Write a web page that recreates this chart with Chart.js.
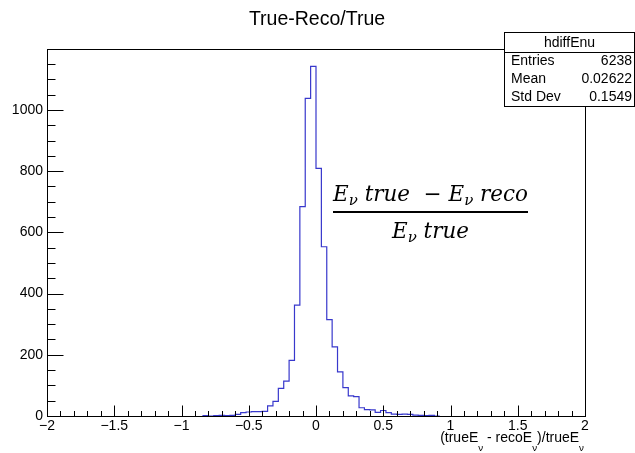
<!DOCTYPE html>
<html>
<head>
<meta charset="utf-8">
<script src="https://cdn.jsdelivr.net/npm/chart.js@4.4.0/dist/chart.umd.min.js"></script>
<style>
html, body { margin: 0; padding: 0; background: #fff; }
#wrap { width: 635px; height: 453px; }
</style>
</head>
<body>
<div id="wrap"><canvas id="hist" width="635" height="453"></canvas></div>
<script>
const histTitle = "True-Reco/True";
const histName = "hdiffEnu";
const statLabels = ["Entries", "Mean", "Std Dev"];
const statValues = ["6238", "0.02622", "0.1549"];

// bins of width 0.04, first one starts at -0.84
const binStart = -0.84;
const binWidth = 0.04;
const binCounts = [
    1, 1, 0, 1, 2, 1, 2, 5, 11, 13,
    14, 14, 15, 33, 48, 90, 114, 182, 362, 684,
    1038, 1142, 809, 553, 315, 226, 144, 93, 66, 63,
    27, 21, 20, 12, 18, 11, 6, 5, 6, 5,
    3, 2, 1, 2
];

const xTicks = [-2, -1.5, -1, -0.5, 0, 0.5, 1, 1.5, 2];
const yTicks = [0, 200, 400, 600, 800, 1000];
const xMin = -2, xMax = 2;
const yMax = 1199;

const lineColor = "#3838cc";
const textFont = "'Liberation Sans', Arial, sans-serif";

// outline points for a step histogram
let histPoints = [{ x: binStart, y: 0 }];
binCounts.forEach((c, i) => {
    histPoints.push({ x: +(binStart + i * binWidth).toFixed(2), y: c });
});
histPoints.push({ x: +(binStart + binCounts.length * binWidth).toFixed(2), y: 0 });

function fmt(v) {
    return (v < 0 ? "\u2212" : "") + Math.abs(v);
}

// text runs with subscripts
function richWidth(ctx, parts, size, family, style) {
    let w = 0;
    parts.forEach(p => {
        ctx.font = style + " " + (p.sub ? size * 0.7 : size) + "px " + family;
        w += ctx.measureText(p.t).width;
    });
    return w;
}

function drawRich(ctx, parts, x, y, size, family, style, subDrop) {
    parts.forEach(p => {
        ctx.font = style + " " + (p.sub ? size * 0.7 : size) + "px " + family;
        ctx.fillText(p.t, x, p.sub ? y + subDrop : y);
        x += ctx.measureText(p.t).width;
    });
}

const rootLook = {
    id: "rootLook",
    afterDraw(chart) {
        const ctx = chart.ctx;
        const area = chart.chartArea;
        const xs = chart.scales.x, ys = chart.scales.y;
        const L = Math.round(area.left) + 0.5, R = Math.round(area.right) + 0.5;
        const T = Math.round(area.top) + 0.5, B = Math.round(area.bottom) + 0.5;

        ctx.save();
        ctx.strokeStyle = "#000";
        ctx.lineWidth = 1;
        ctx.strokeRect(L, T, R - L, B - T);

        // ticks inside the frame
        ctx.beginPath();
        for (let k = -20; k <= 20; k++) {
            const px = Math.round(xs.getPixelForValue(k / 10)) + 0.5;
            const len = k % 5 === 0 ? 11 : 5.5;
            ctx.moveTo(px, B);
            ctx.lineTo(px, B - len);
        }
        for (let k = 0; k * 50 <= yMax; k++) {
            const py = Math.round(ys.getPixelForValue(k * 50)) + 0.5;
            const len = k % 4 === 0 ? 16 : 8;
            ctx.moveTo(L, py);
            ctx.lineTo(L + len, py);
        }
        ctx.stroke();

        // title
        ctx.fillStyle = "#000";
        ctx.textAlign = "center";
        ctx.textBaseline = "middle";
        ctx.font = "19.5px " + textFont;
        ctx.fillText(histTitle, 317, 20);

        // stats box
        ctx.fillStyle = "#fff";
        ctx.fillRect(504.5, 32.5, 130, 74);
        ctx.strokeRect(504.5, 32.5, 130, 74);
        ctx.beginPath();
        ctx.moveTo(504.5, 52.5);
        ctx.lineTo(634.5, 52.5);
        ctx.stroke();
        ctx.fillStyle = "#000";
        ctx.font = "14px " + textFont;
        ctx.textAlign = "center";
        ctx.fillText(histName, 569.5, 43);
        statLabels.forEach((lab, i) => {
            const yy = 61 + i * 18;
            ctx.textAlign = "left";
            ctx.fillText(lab, 511, yy);
            ctx.textAlign = "right";
            ctx.fillText(statValues[i], 632, yy);
        });

        // x axis title, right aligned at the frame end
        const xTitle = [
            { t: "(trueE" }, { t: "\u03bd", sub: true },
            { t: " - recoE" }, { t: "\u03bd", sub: true },
            { t: ")/trueE" }, { t: "\u03bd", sub: true }
        ];
        ctx.textAlign = "left";
        ctx.textBaseline = "alphabetic";
        const xtw = richWidth(ctx, xTitle, 14, textFont, "");
        drawRich(ctx, xTitle, 584 - xtw, 441.5, 14, textFont, "", 9);

        // formula in the plot
        const serif = "'DejaVu Serif', 'Liberation Serif', serif";
        const num = [
            { t: "E" }, { t: "\u03bd", sub: true }, { t: " true  \u2212 E" },
            { t: "\u03bd", sub: true }, { t: " reco" }
        ];
        const den = [{ t: "E" }, { t: "\u03bd", sub: true }, { t: " true" }];
        let fs = 22;
        fs = fs * 195 / richWidth(ctx, num, fs, serif, "italic");
        const nw = richWidth(ctx, num, fs, serif, "italic");
        const dw = richWidth(ctx, den, fs, serif, "italic");
        drawRich(ctx, num, 430.5 - nw / 2, 201, fs, serif, "italic", 4);
        drawRich(ctx, den, 430.5 - dw / 2, 238, fs, serif, "italic", 4);
        ctx.fillRect(333, 211, 195, 2);
        ctx.restore();
    }
};

new Chart(document.getElementById("hist"), {
    type: "line",
    data: {
        datasets: [{
            label: histName,
            data: histPoints,
            stepped: "after",
            borderColor: lineColor,
            borderWidth: 1.2,
            pointRadius: 0,
            fill: false
        }]
    },
    options: {
        responsive: false,
        animation: false,
        layout: { padding: { top: 49, right: 50, left: 0, bottom: 0 } },
        plugins: {
            legend: { display: false },
            tooltip: { enabled: false },
            title: { display: false }
        },
        scales: {
            x: {
                type: "linear",
                min: xMin,
                max: xMax,
                afterFit: s => { s.height = 37; },
                afterBuildTicks: s => { s.ticks = xTicks.map(v => ({ value: v })); },
                grid: { display: false, drawTicks: false },
                border: { display: false },
                ticks: {
                    padding: 2,
                    maxRotation: 0,
                    autoSkip: false,
                    color: "#000",
                    font: { family: textFont, size: 14 },
                    callback: v => fmt(v)
                }
            },
            y: {
                type: "linear",
                min: 0,
                max: yMax,
                afterFit: s => { s.width = 47; },
                afterBuildTicks: s => { s.ticks = yTicks.map(v => ({ value: v })); },
                grid: { display: false, drawTicks: false },
                border: { display: false },
                ticks: {
                    padding: 4,
                    color: "#000",
                    font: { family: textFont, size: 14 },
                    callback: v => fmt(v)
                }
            }
        }
    },
    plugins: [rootLook]
});
</script>
</body>
</html>
